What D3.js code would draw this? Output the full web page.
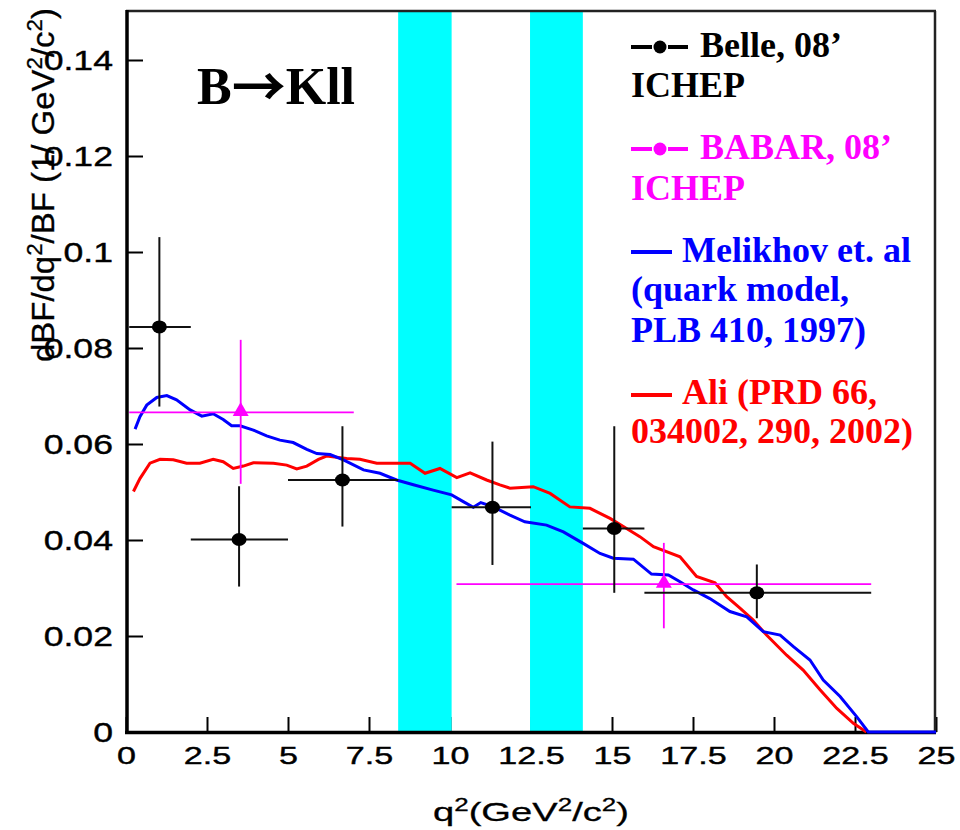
<!DOCTYPE html>
<html>
<head>
<meta charset="utf-8">
<script src="https://cdn.jsdelivr.net/npm/d3@7"></script>
<style>
  body { margin: 0; background: #fff; }
  svg { display: block; }
</style>
</head>
<body>
<svg id="chart" width="960" height="830"></svg>
<script>
'use strict';

// Bandes de veto (J/psi, psi(2S)) en q^2
var bandLo = [8.4, 12.47];
var bandHi = [10.05, 14.1];

// Belle, 08' ICHEP
var belleQ2  = [1.03, 3.49, 6.68, 11.31, 15.07, 19.47];
var belleLo  = [0.1, 2.0, 5.0, 10.05, 14.1, 16.0];
var belleHi  = [2.0, 5.0, 8.4, 12.5, 16.0, 23.0];
var belleVal = [0.0844, 0.0401, 0.0525, 0.0468, 0.0424, 0.0290];
var belleUp  = [0.1031, 0.0512, 0.0637, 0.0605, 0.0637, 0.0349];
var belleDn  = [0.0678, 0.0303, 0.0428, 0.0348, 0.0290, 0.0237];

// BABAR, 08' ICHEP
var babarQ2  = [3.54, 16.6];
var babarLo  = [0.1, 10.2];
var babarHi  = [7.03, 23.0];
var babarVal = [0.0666, 0.0308];
var babarUp  = [0.0817, 0.0394];
var babarDn  = [0.0517, 0.0216];

// Melikhov et. al (quark model)
var blueQ2 = [0.28,0.43,0.64,0.95,1.26,1.56,1.98,2.34,2.69,3.0,3.26,3.52,3.93,4.34,4.75,5.16,5.58,5.89,6.3,6.71,
  7.33,7.84,8.35,8.87,9.48,10.05,10.41,10.72,10.95,11.34,11.85,12.31,12.98,13.5,14.11,14.63,15.04,15.66,16.22,16.74,
  17.1,17.51,18.02,18.64,19.16,19.67,20.19,20.6,21.11,21.52,22.04,22.55,22.91,25];
var blueV = [0.0631,0.0657,0.0681,0.0697,0.0701,0.0692,0.0671,0.0658,0.0663,0.0651,0.0638,0.0638,0.0629,0.0617,0.0608,
  0.0603,0.0589,0.0580,0.0578,0.0567,0.0546,0.0539,0.0525,0.0515,0.0504,0.0494,0.0480,0.0468,0.0478,0.0469,
  0.0452,0.0438,0.0431,0.0417,0.0393,0.0372,0.0362,0.0360,0.0329,0.0327,0.0313,0.0296,0.0278,0.0251,0.0240,
  0.0209,0.0202,0.0178,0.0150,0.0108,0.0074,0.0032,0.0,0.0];

// Ali (PRD 66)
var redQ2 = [0.23,0.43,0.74,1.05,1.46,1.87,2.28,2.69,3.0,3.31,3.62,3.93,4.55,4.96,5.27,5.58,5.94,6.19,6.81,7.22,
  7.74,8.25,8.77,9.23,9.69,10.21,10.62,11.13,11.54,11.85,12.57,13.09,13.7,14.32,14.94,15.45,15.86,16.28,17.1,17.61,
  18.18,18.54,18.95,19.36,19.77,20.39,20.9,21.42,21.94,22.45,22.85];
var redV = [0.0501,0.0528,0.0560,0.0568,0.0567,0.0560,0.0560,0.0568,0.0563,0.0549,0.0554,0.0561,0.0560,0.0556,0.0548,
  0.0554,0.0568,0.0575,0.0570,0.0568,0.0560,0.0560,0.0560,0.0539,0.0549,0.0530,0.0540,0.0525,0.0515,0.0508,
  0.0511,0.0497,0.0469,0.0466,0.0445,0.0424,0.0407,0.0386,0.0365,0.0324,0.0311,0.0282,0.0258,0.0233,0.0202,
  0.0160,0.0129,0.0088,0.0049,0.0018,0.0];

// Graduations
var xMajor = [0, 2.5, 5, 7.5, 10, 12.5, 15, 17.5, 20, 22.5, 25];
var yMajor = [0, 0.02, 0.04, 0.06, 0.08, 0.1, 0.12, 0.14];

var SANS = "'Liberation Sans', Arial, Helvetica, sans-serif";
var SERIF = "'Liberation Serif', 'Times New Roman', serif";

var svg = d3.select('#chart');
svg.append('rect').attr('width', 960).attr('height', 830).attr('fill', '#fff');

var x = d3.scaleLinear().domain([0, 25]).range([126, 936]);
var y = d3.scaleLinear().domain([0, 0.15]).range([732, 12]);

// Petites graduations
var xMinor = d3.range(0, 25.01, 0.5).filter(function(v) { return xMajor.indexOf(v) < 0; });
var yMinor = d3.range(0, 0.1501, 0.005).filter(function(v) {
  return !yMajor.some(function(m) { return Math.abs(m - v) < 1e-6; });
});

var gx = svg.append('g').attr('transform', 'translate(0,732)');
gx.call(d3.axisBottom(x).tickValues(xMinor).tickSize(-7).tickFormat(''));
gx.call(d3.axisBottom(x).tickValues(xMajor).tickSize(-15).tickPadding(15)
  .tickFormat(function(d) { return String(d); }));
gx.selectAll('.domain').remove();
gx.selectAll('line').attr('stroke', '#000').attr('stroke-width', 2);
gx.selectAll('text').filter(function() { return this.textContent === ''; }).remove();
gx.selectAll('text')
  .attr('font-family', SANS).attr('font-size', 24).attr('fill', '#000')
  .attr('stroke', '#000').attr('stroke-width', 0.4)
  .attr('transform', 'scale(1.42,1)');

var gy = svg.append('g').attr('transform', 'translate(126,0)');
gy.call(d3.axisLeft(y).tickValues(yMinor).tickSize(-9).tickFormat(''));
gy.call(d3.axisLeft(y).tickValues(yMajor).tickSize(-17)
  .tickFormat(function(d) { return String(+d.toFixed(2)); }));
gy.selectAll('.domain').remove();
gy.selectAll('line').attr('stroke', '#000').attr('stroke-width', 2);
gy.selectAll('text').filter(function() { return this.textContent === ''; }).remove();
gy.selectAll('text')
  .attr('x', 0).attr('dy', '0.35em')
  .attr('font-family', SANS).attr('font-size', 28.5).attr('fill', '#000')
  .attr('stroke', '#000').attr('stroke-width', 0.4)
  .attr('transform', 'translate(-13,0) scale(1.25,1)');

// Bandes cyan
svg.append('g').selectAll('rect').data(bandLo).join('rect')
  .attr('x', function(d) { return x(d); })
  .attr('y', y(0.15))
  .attr('width', function(d, i) { return x(bandHi[i]) - x(d); })
  .attr('height', y(0) - y(0.15))
  .attr('fill', '#00ffff');

// Cadre
svg.append('line').attr('x1', 126).attr('x2', 936).attr('y1', 11).attr('y2', 11)
  .attr('stroke', '#222').attr('stroke-width', 2.5);
svg.append('line').attr('x1', 935).attr('x2', 935).attr('y1', 11).attr('y2', 733)
  .attr('stroke', '#222').attr('stroke-width', 2.5);
svg.append('line').attr('x1', 127).attr('x2', 127).attr('y1', 10).attr('y2', 734)
  .attr('stroke', '#000').attr('stroke-width', 3.5);
svg.append('line').attr('x1', 125).attr('x2', 936).attr('y1', 732.5).attr('y2', 732.5)
  .attr('stroke', '#000').attr('stroke-width', 3.5);

// Courbes théoriques
var line = d3.line()
  .x(function(d) { return x(d[0]); })
  .y(function(d) { return y(d[1]); });

svg.append('path').datum(d3.zip(redQ2, redV))
  .attr('d', line).attr('fill', 'none').attr('stroke', '#ff0000').attr('stroke-width', 3);
svg.append('path').datum(d3.zip(blueQ2, blueV))
  .attr('d', line).attr('fill', 'none').attr('stroke', '#0000ff').attr('stroke-width', 3);

// Points de mesure avec barres d'erreur
function errores(q2, lo, hi, val, up, dn, color, width) {
  var g = svg.append('g').attr('stroke', color).attr('stroke-width', width);
  g.selectAll('.h').data(q2).join('line').attr('class', 'h')
    .attr('x1', function(d, i) { return x(lo[i]); })
    .attr('x2', function(d, i) { return x(hi[i]); })
    .attr('y1', function(d, i) { return y(val[i]); })
    .attr('y2', function(d, i) { return y(val[i]); });
  g.selectAll('.v').data(q2).join('line').attr('class', 'v')
    .attr('x1', function(d) { return x(d); })
    .attr('x2', function(d) { return x(d); })
    .attr('y1', function(d, i) { return y(up[i]); })
    .attr('y2', function(d, i) { return y(dn[i]); });
}

errores(babarQ2, babarLo, babarHi, babarVal, babarUp, babarDn, '#ff00ff', 1.8);
errores(belleQ2, belleLo, belleHi, belleVal, belleUp, belleDn, '#111', 2);

svg.append('g').selectAll('path').data(babarQ2).join('path')
  .attr('d', d3.symbol(d3.symbolTriangle, 110))
  .attr('transform', function(d, i) { return 'translate(' + x(d) + ',' + (y(babarVal[i]) - 1) + ')'; })
  .attr('fill', '#ff00ff');

svg.append('g').selectAll('ellipse').data(belleQ2).join('ellipse')
  .attr('cx', function(d) { return x(d); })
  .attr('cy', function(d, i) { return y(belleVal[i]); })
  .attr('rx', 7.5).attr('ry', 6.5)
  .attr('fill', '#000');

// Textes avec exposants
function texto(sel, partes) {
  partes.forEach(function(p) {
    var t = sel.append('tspan').text(p.t);
    if (p.sup) t.attr('font-size', '0.68em').attr('baseline-shift', '55%');
  });
}

var tituloY = svg.append('text')
  .attr('transform', 'translate(53.5,362) rotate(-90) scale(1.08,1.05)')
  .attr('font-family', SANS).attr('font-size', 30.5).attr('fill', '#000')
  .attr('stroke', '#000').attr('stroke-width', 0.3);
texto(tituloY, [{t: 'dBF/dq'}, {t: '2', sup: true}, {t: '/BF (1/ GeV'}, {t: '2', sup: true},
  {t: '/c'}, {t: '2', sup: true}, {t: ')'}]);

var tituloX = svg.append('text')
  .attr('transform', 'translate(433,821) scale(1.44,1)')
  .attr('font-family', SANS).attr('font-size', 26.5).attr('fill', '#000')
  .attr('stroke', '#000').attr('stroke-width', 0.3);
texto(tituloX, [{t: 'q'}, {t: '2', sup: true}, {t: '(GeV'}, {t: '2', sup: true}, {t: '/c'},
  {t: '2', sup: true}, {t: ')'}]);

var titulo = svg.append('text').attr('x', 197).attr('y', 104)
  .attr('font-family', SERIF).attr('font-weight', 'bold').attr('font-size', 52)
  .attr('fill', '#000');
titulo.append('tspan').text('B');
titulo.append('tspan').attr('font-family', "'Noto Sans CJK JP', 'Noto Sans CJK SC', sans-serif")
  .attr('font-size', 54).attr('font-weight', 'bold').attr('dy', 3).text('\u2192');
titulo.append('tspan').attr('dy', -3).text('Kll');

// Leyenda
var leyenda = [
  {color: '#000', punto: true, y: 47, lineas: [['Belle, 08\u2019', 700, 57], ['ICHEP', 631, 97]]},
  {color: '#ff00ff', punto: true, y: 149, lineas: [['BABAR, 08\u2019', 700, 159], ['ICHEP', 631, 200]]},
  {color: '#0000ff', punto: false, y: 252, lineas: [['Melikhov et. al', 682, 262], ['(quark model,', 631, 301],
    ['PLB 410, 1997)', 631, 342]]},
  {color: '#ff0000', punto: false, y: 395, lineas: [['Ali (PRD 66,', 682, 404], ['034002, 290, 2002)', 631, 443]]}
];

var gl = svg.append('g');
leyenda.forEach(function(e) {
  if (e.punto) {
    gl.append('line').attr('x1', 631).attr('x2', 652).attr('y1', e.y).attr('y2', e.y)
      .attr('stroke', e.color).attr('stroke-width', 4);
    gl.append('line').attr('x1', 668).attr('x2', 688).attr('y1', e.y).attr('y2', e.y)
      .attr('stroke', e.color).attr('stroke-width', 4);
    gl.append('circle').attr('cx', 660).attr('cy', e.y).attr('r', 6.5).attr('fill', e.color);
  } else {
    gl.append('line').attr('x1', 631).attr('x2', 672).attr('y1', e.y).attr('y2', e.y)
      .attr('stroke', e.color).attr('stroke-width', 4);
  }
  e.lineas.forEach(function(l) {
    gl.append('text').attr('x', l[1]).attr('y', l[2])
      .attr('font-family', SERIF).attr('font-weight', 'bold').attr('font-size', 36)
      .attr('fill', e.color).text(l[0]);
  });
});
</script>
</body>
</html>
